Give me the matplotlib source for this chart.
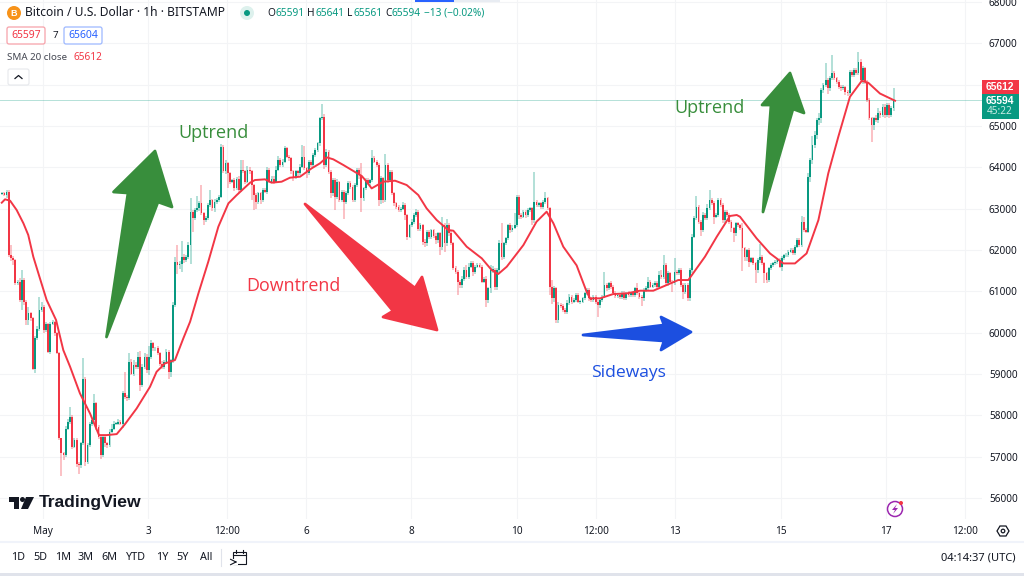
# -*- coding: utf-8 -*-
"""
Bitcoin / U.S. Dollar 1h (TradingView) com marcações de tendência
"""

import matplotlib
matplotlib.use('Agg')
import matplotlib.pyplot as plt
from matplotlib.patches import Polygon, Circle, Rectangle, FancyBboxPatch


# Fechamento de cada candle
closes = [
    63370, 63330, 63410, 61880, 61800, 61760, 61190, 61230, 60790, 61270,
    60750, 60300, 60470, 60350, 59130, 59860, 60100, 60550, 60630, 60060,
    60220, 59540, 60220, 60260, 59980, 59500, 57440, 57080, 57040, 57680,
    57840, 57960, 57240, 57400, 56830, 56790, 57320, 58870, 56875, 57280,
    57800, 57880, 58290, 57720, 57480, 57040, 57480, 57320, 57280, 57600,
    57680, 57800, 57800, 57840, 57800, 58530, 58450, 58410, 59300, 59010,
    59220, 59175, 59420, 58730, 59175, 59420, 59095, 59420, 59740, 59620,
    59620, 59500, 59250, 59170, 59290, 59540, 59050, 59340, 60670, 61710,
    61630, 61670, 61840, 61750, 61840, 62120, 62930, 62770, 62970, 63010,
    63130, 62890, 62730, 62770, 63090, 63210, 63010, 63170, 63210, 63290,
    64500, 63900, 64100, 63860, 63650, 63690, 63490, 63730, 63450, 63940,
    63900, 63650, 63940, 63900, 63570, 63330, 63170, 63370, 63210, 63450,
    63410, 63940, 63650, 63730, 63650, 63940, 64180, 64060, 64140, 64460,
    64260, 64220, 63900, 63770, 63900, 63855, 64020, 64260, 63980, 63855,
    64140, 64060, 64300, 64420, 64580, 65190, 65230, 64060, 64380, 63895,
    63370, 63690, 63290, 63650, 63210, 63410, 63170, 63370, 63610, 63530,
    63210, 63570, 63935, 63815, 63250, 63490, 63690, 63610, 63690, 64220,
    64140, 64060, 63210, 63735, 63210, 64060, 63690, 63895, 63370, 63130,
    63050, 62970, 63000, 63090, 62850, 62320, 62600, 62685, 62850, 62930,
    62520, 62600, 62200, 62160, 62440, 62320, 62480, 62350, 62240, 62400,
    62080, 62600, 62160, 62600, 62400, 62160, 61555, 61475, 61230, 61150,
    61300, 61515, 61350, 61600, 61675, 61475, 61600, 61635, 61600, 61230,
    61310, 60790, 61070, 61515, 61515, 61110, 61515, 62160, 61840, 62160,
    62280, 62600, 62480, 62540, 62600, 63290, 62845, 62805, 62930, 62845,
    62970, 63010, 62725, 63170, 63090, 63130, 63050, 63170, 63250, 63010,
    61110, 60830, 61070, 60305, 60670, 60650, 60550, 60505, 60710, 60870,
    60750, 60790, 60910, 60750, 60750, 60830, 60950, 61030, 60830, 60790,
    60870, 60750, 60670, 60790, 60870, 61150, 61070, 61190, 61110, 60950,
    60890, 60910, 60870, 60950, 60830, 60950, 60910, 60950, 60910,
    61070, 60950, 60870, 60830, 61030, 61070, 61230, 61110, 61160, 61190,
    61110, 61390, 61350, 61635, 61190, 61435, 61230, 61190, 61475, 61435,
    61515, 61150, 60990, 61150, 60830, 61515, 62320, 62765, 63050, 62685,
    62485, 62850, 62765, 63010, 63210, 63130, 62810, 62850, 63210, 63090,
    62725, 62930, 62850, 62685, 62525, 62400, 62645, 62600, 62525,
    62040, 61840, 61995, 61715, 61795, 61675, 61515, 61755, 61835, 61675,
    61435, 61270, 61555, 61635, 61675, 61715, 61755, 61595, 61795, 61875,
    61880, 61960, 62000, 61920, 62080, 62240, 62120, 62685, 62480, 62440,
    63775, 64180, 64540, 64780, 65145, 65185, 65870, 66000, 66115, 65910,
    66155, 66275, 66155, 66075, 65950, 65910, 65950, 65830, 65790, 66315,
    66235, 66355, 66275, 66560, 66115, 66395, 66075, 65630, 65185, 65025,
    65185, 65145, 65305, 65265, 65470, 65265, 65510, 65265, 65430, 65594,
]

# Tamanho do pavio acima do corpo
wick_up = [
    30, 30, 40, 30, 250, 60, 30, 50, 90, 250,
    60, 40, 150, 30, 20, 60, 50, 310, 120, 40,
    40, 20, 40, 40, 30, 30, 30, 20, 40, 60,
    60, 240, 40, 50, 40, 30, 40, 510, 60, 40,
    40, 40, 220, 40, 40, 30, 50, 40, 40, 70,
    100, 60, 40, 60, 40, 60, 520, 40, 200, 60,
    110, 60, 100, 130, 60, 90, 60, 260, 80, 40,
    40, 50, 30, 60, 40, 60, 50, 30, 70, 110,
    400, 60, 370, 60, 40, 70, 320, 40, 40, 300,
    60, 440, 40, 50, 40, 240, 30, 60, 60, 30,
    60, 30, 80, 40, 30, 40, 50, 40, 60, 250,
    240, 40, 100, 60, 40, 30, 40, 40, 30, 40,
    40, 60, 50, 60, 60, 90, 100, 40, 60, 60,
    40, 40, 30, 40, 40, 30, 50, 280, 250, 40,
    40, 50, 50, 60, 30, 40, 300, 60, 60, 50,
    40, 50, 50, 60, 30, 30, 40, 50, 60, 60,
    40, 50, 40, 40, 300, 40, 50, 50, 40, 200,
    60, 40, 40, 60, 40, 270, 40, 40, 40, 40,
    40, 40, 30, 60, 50, 30, 40, 60, 50, 60,
    40, 50, 40, 60, 50, 50, 40, 40, 60, 40,
    30, 200, 60, 150, 50, 60, 40, 50, 40, 40,
    60, 80, 120, 90, 70, 60, 40, 50, 40, 40,
    40, 60, 40, 120, 90, 60, 60, 90, 500, 40,
    40, 40, 60, 60, 300, 40, 40, 40, 40, 40,
    40, 40, 40, 720, 40, 40, 40, 40, 160, 40,
    40, 160, 60, 40, 60, 50, 40, 40, 80, 60,
    40, 60, 40, 40, 50, 40, 40, 60, 40, 30,
    40, 40, 50, 40, 40, 310, 50, 40, 50, 40,
    60, 40, 40, 60, 60, 40, 60, 40, 40,
    40, 120, 40, 50, 50, 50, 120, 40, 50, 50,
    50, 100, 130, 250, 40, 50, 40, 40, 340, 40,
    40, 40, 40, 40, 40, 50, 60, 50, 250, 40,
    40, 60, 40, 100, 240, 40, 50, 40, 50, 50,
    40, 50, 40, 40, 40, 40, 40, 40, 40,
    120, 40, 40, 60, 40, 40, 40, 60, 320, 40,
    40, 40, 40, 40, 40, 40, 40, 40, 50, 40,
    40, 50, 40, 40, 40, 60, 40, 130, 120, 60,
    90, 50, 210, 100, 60, 140, 40, 40, 400, 50,
    60, 440, 50, 40, 40, 40, 40, 30, 30, 40,
    40, 50, 40, 240, 60, 50, 40, 40, 40, 40,
    40, 70, 120, 50, 70, 60, 50, 40, 60, 320,
]

# Tamanho do pavio abaixo do corpo
wick_dn = [
    30, 30, 60, 40, 60, 120, 30, 30, 60, 240,
    90, 120, 110, 60, 40, 100, 40, 60, 60, 60,
    40, 40, 50, 40, 50, 20, 40, 560, 120, 60,
    40, 60, 50, 40, 90, 200, 60, 40, 100, 60,
    40, 60, 40, 70, 50, 100, 60, 80, 60, 40,
    40, 40, 30, 40, 30, 100, 50, 60, 30, 40,
    60, 60, 50, 140, 50, 60, 60, 130, 60, 60,
    60, 50, 50, 40, 60, 50, 170, 120, 80, 60,
    200, 100, 210, 60, 40, 60, 450, 330, 40, 50,
    60, 50, 120, 60, 40, 50, 60, 100, 60, 40,
    30, 40, 60, 360, 50, 40, 60, 40, 60, 40,
    40, 60, 40, 50, 350, 350, 180, 60, 90, 40,
    40, 50, 40, 40, 50, 40, 40, 50, 40, 40,
    30, 70, 50, 100, 50, 60, 30, 40, 40, 120,
    50, 60, 40, 40, 50, 60, 40, 100, 50, 50,
    100, 60, 330, 50, 60, 40, 410, 60, 40, 60,
    50, 50, 50, 100, 320, 60, 40, 40, 50, 50,
    40, 60, 150, 100, 80, 50, 60, 40, 40, 70,
    50, 50, 40, 40, 120, 70, 40, 40, 50, 40,
    50, 50, 70, 90, 60, 50, 60, 50, 90, 60,
    200, 80, 200, 60, 60, 40, 40, 60, 320, 60,
    60, 60, 40, 60, 40, 100, 50, 40, 40, 40,
    40, 160, 70, 100, 60, 90, 80, 60, 80, 60,
    50, 50, 60, 40, 40, 40, 100, 50, 40, 60,
    50, 60, 120, 60, 50, 50, 60, 50, 60, 50,
    200, 130, 100, 80, 60, 60, 50, 60, 60, 40,
    50, 40, 50, 40, 50, 30, 40, 40, 70, 40,
    50, 60, 280, 70, 50, 40, 60, 40, 50, 50,
    50, 50, 60, 50, 40, 50, 40, 50, 50,
    50, 50, 50, 190, 60, 40, 50, 40, 40, 50,
    50, 60, 40, 40, 60, 50, 60, 200, 40, 40,
    40, 50, 180, 60, 60, 60, 60, 40, 40, 60,
    150, 60, 40, 50, 40, 40, 190, 40, 60, 40,
    60, 60, 50, 60, 100, 200, 50, 50, 50,
    560, 100, 100, 120, 40, 40, 310, 60, 60, 40,
    240, 60, 40, 50, 40, 40, 50, 40, 100, 40,
    40, 40, 40, 40, 40, 40, 50, 40, 40, 40,
    40, 130, 90, 60, 100, 120, 100, 60, 50, 130,
    60, 50, 40, 60, 60, 60, 50, 70, 60, 40,
    40, 50, 40, 40, 60, 100, 60, 60, 50, 400,
    130, 40, 60, 80, 40, 60, 50, 60, 40, 60,
]

# SMA 20 (lida em pontos ao longo da linha)
sma_hours = [0.8, 2.3, 4.6, 7.6, 10.7, 12.9, 15.2, 18, 21.3, 25.6, 28.9, 32, 36.5, 41.1, 45.2,
             48.7, 53.3, 57.1, 62.4, 68.5, 71.5, 75.3, 79.9, 83.7, 86.8, 90.6, 95.1, 99.7, 104.3,
             108.1, 114.2, 116.4, 121, 124, 128.6, 132.4, 137, 142.3, 146.1, 149.2, 152.2, 156.8,
             165.2, 167.4, 169.7, 175, 180.4, 185.7, 191, 194.8, 199.4, 204.7, 207, 213.1, 220,
             224.5, 227.5, 231.4, 239, 245, 249.6, 252.7, 257.2, 263.3, 267.9, 269.4, 274, 280,
             286.2, 292.2, 298.3, 304.4, 309.7, 314.3, 321.9, 327.3, 333.3, 336.4, 337.9, 345.5,
             351.6, 357.7, 363, 368.3, 373.7, 378.2, 382.8, 388.1, 393.5, 396.5, 401.8, 408.7]
sma_values = [63145, 63226, 63194, 62968, 62645, 62363, 61838, 61354, 60789, 60305, 59578, 59175,
              58530, 58045, 57520, 57520, 57545, 57787, 58166, 58690, 59053, 59255, 59336, 59860,
              60264, 60950, 61716, 62564, 63129, 63330, 63629, 63693, 63710, 63629, 63653, 63750,
              63774, 63976, 64097, 64242, 64194, 64056, 63790, 63653, 63491, 63653, 63677, 63572,
              63330, 63007, 62725, 62483, 62467, 62080, 61797, 61515, 61418, 61596, 62120, 62685,
              62927, 62645, 62080, 61627, 60985, 60830, 60830, 60934, 60950, 61015, 61015, 61152,
              61273, 61273, 61838, 62322, 62823, 62847, 62805, 62280, 61917, 61675, 61675, 61917,
              62724, 63854, 64742, 65707, 66094, 66046, 65787, 65612]

price_ticks = [56000, 57000, 58000, 59000, 60000, 61000, 62000, 63000, 64000, 65000, 66000, 67000, 68000]
# 66000 fica escondido atrás das etiquetas de preço
price_labels = ['56000', '57000', '58000', '59000', '60000', '61000', '62000', '63000', '64000', '65000', '', '67000', '68000']
time_ticks = [19.6, 67.6, 103.7, 139.7, 187.7, 236, 272, 308, 356.6, 404.6, 440.6]
time_labels = ['May', '3', '12:00', '6', '8', '10', '12:00', '13', '15', '17', '12:00']
ranges = ['1D', '5D', '1M', '3M', '6M', 'YTD', '1Y', '5Y', 'All']
ranges_x = [18, 40, 63, 86, 109, 136, 162, 183, 206]

UP = '#089981'
DOWN = '#F23645'
TXT = '#131722'
FONT = 'Noto Sans'

plt.rcParams['font.family'] = [FONT, 'DejaVu Sans']

fig = plt.figure(figsize=(10.24, 5.76), dpi=100)
W, H = 1024, 576
bottom_px = 519

# Painel de preços
ax = fig.add_axes([0, (H - bottom_px) / H, 982 / W, bottom_px / H])
ax.set_xlim(0, 448.4)
ax.set_ylim(55490, 68050)
for s in ax.spines.values():
    s.set_visible(False)

ax.set_yticks(price_ticks)
ax.set_yticklabels(price_labels)
ax.yaxis.tick_right()
ax.set_xticks(time_ticks)
ax.set_xticklabels(time_labels)
ax.tick_params(length=0, labelsize=7.2, colors=TXT)
ax.tick_params(axis='x', pad=5)
ax.tick_params(axis='y', pad=5)
ax.grid(True, color='#F3F4F6', linewidth=0.8)
ax.set_axisbelow(True)

# Candles
opens = [63350] + closes[:-1]
for i, (o, c, u, d) in enumerate(zip(opens, closes, wick_up, wick_dn)):
    h = i + 1
    col = UP if c >= o else DOWN
    ax.vlines(h, min(o, c) - d, max(o, c) + u, color=col, linewidth=1.2, alpha=0.36, zorder=2)
    ax.bar(h, abs(c - o) if abs(c - o) > 15 else 15, bottom=min(o, c), width=0.8, color=col,
           linewidth=0, zorder=3)

# Linha do último preço e SMA
ax.axhline(closes[-1] + 40, color=UP, linewidth=0.7, alpha=0.3, zorder=1)
ax.plot(sma_hours, sma_values, color=DOWN, linewidth=1.4, zorder=4)

# Camada em pixels para anotações e interface
ov = fig.add_axes([0, 0, 1, 1], facecolor='none')
ov.set_xlim(0, W)
ov.set_ylim(H, 0)
ov.axis('off')


def arrow(pts, col):
    ov.add_patch(Polygon(pts, closed=True, facecolor=col, edgecolor=col, linewidth=2, joinstyle='round', zorder=5))


GREEN = '#388E3C'
BLUE = '#1C4FE0'
RED_ARROW = '#F23645'
arrow([(106.5, 337), (128, 193), (113.5, 192), (155, 151), (172, 207), (158, 202)], GREEN)
arrow([(763, 212), (771, 105), (762, 105), (790, 73), (804, 113), (793, 109)], GREEN)
arrow([(305, 204), (415, 288), (422, 277), (437, 330), (383, 317), (393, 311)], RED_ARROW)
arrow([(583, 335), (664, 325), (661, 317), (691, 332), (661, 350), (664, 341)], BLUE)

ann_font = 'Open Sans'
ov.text(178, 133, 'Uptrend', color=GREEN, fontsize=13.1, family=ann_font, va='center')
ov.text(674, 108, 'Uptrend', color=GREEN, fontsize=13.1, family=ann_font, va='center')
ov.text(246, 286, 'Downtrend', color=RED_ARROW, fontsize=12.9, family=ann_font, va='center')
ov.text(591, 373, 'Sideways', color=BLUE, fontsize=12.6, family=ann_font, va='center')

# Cabeçalho
ov.add_patch(Rectangle((415, 0), 39, 1.5, color='#2962FF', linewidth=0))
ov.add_patch(Rectangle((454, 0), 46, 1.5, color='#E8ECF2', linewidth=0))
ov.add_patch(Circle((14, 13), 7, color='#F7931A', linewidth=0))
ov.text(14, 13, 'B', color='white', fontsize=6.5, family='Liberation Sans', fontweight='bold', ha='center', va='center')
ov.text(25, 13, 'Bitcoin / U.S. Dollar · 1h · BITSTAMP', color=TXT, fontsize=8.7, va='center')
ov.add_patch(Circle((247, 13), 7, color='#DDF1ED', linewidth=0))
ov.add_patch(Circle((247, 13), 3, color=UP, linewidth=0))
for x, s, col in [(267, 'O', TXT), (275, '65591', UP), (307, 'H', TXT), (315, '65641', UP),
                  (347, 'L', TXT), (353, '65561', UP), (385, 'C', TXT), (392, '65594', UP),
                  (424, '−13 (−0.02%)', UP)]:
    ov.text(x, 13, s, color=col, fontsize=7.3, va='center')

for x0, x1, col, s in [(7, 45, '#F7A1A9', '65597'), (64, 102, '#9DB8FF', '65604')]:
    ov.add_patch(FancyBboxPatch((x0, 27), x1 - x0, 17, boxstyle='round,pad=0,rounding_size=2',
                                facecolor='white', edgecolor=col, linewidth=0.9))
    ov.text((x0 + x1) / 2, 35.5, s, color=DOWN if x0 == 7 else '#2962FF', fontsize=7.5, ha='center', va='center')
ov.text(55, 35.5, '7', color=TXT, fontsize=7, ha='center', va='center')
ov.text(7, 58, 'SMA 20 close', color='#434651', fontsize=7, va='center')
ov.text(73, 58, '65612', color=DOWN, fontsize=7.2, va='center')
ov.add_patch(FancyBboxPatch((8, 69), 21, 16, boxstyle='round,pad=0,rounding_size=2',
                            facecolor='white', edgecolor='#E6E8EC', linewidth=0.8))
ov.plot([15, 18.5, 22], [78.5, 75.5, 78.5], color=TXT, linewidth=0.9)

# Etiquetas de preço
ov.add_patch(Rectangle((982, 80), 37, 14, color=DOWN, linewidth=0, zorder=6))
ov.add_patch(Rectangle((982, 94), 37, 25, color=UP, linewidth=0, zorder=6))
ov.text(1000, 87, '65612', color='white', fontsize=7.4, family='Liberation Sans', fontweight='bold', ha='center', va='center', zorder=7)
ov.text(1000, 100.5, '65594', color='white', fontsize=7.4, family='Liberation Sans', fontweight='bold', ha='center', va='center', zorder=7)
ov.text(1000, 112, '45:22', color='#C9ECE5', fontsize=7.2, ha='center', va='center', zorder=7)

# Logo TradingView
ov.add_patch(Polygon([(9, 497), (19, 497), (19, 509), (14, 509), (14, 502), (9, 502)], color='#131722', linewidth=0))
ov.add_patch(Circle((22.5, 499.5), 2.5, color='#131722', linewidth=0))
ov.add_patch(Polygon([(26, 497), (34, 497), (28, 509), (21, 509)], color='#131722', linewidth=0))
ov.text(39, 503, 'TradingView', color='#131722', fontsize=12.6, family='Liberation Sans', fontweight='bold', va='center')

# Ícone roxo
ov.add_patch(Circle((895, 509), 7.5, facecolor='white', edgecolor='#9C27B0', linewidth=1.1))
ov.add_patch(Polygon([(897, 504), (892, 510), (895, 510), (893, 514), (898, 508), (895, 508)], color='#9C27B0', linewidth=0))
ov.add_patch(Circle((901, 503), 2, color=DOWN, linewidth=0))

# Engrenagem
ov.add_patch(Polygon([(997, 531), (1000, 526), (1006, 526), (1009, 531), (1006, 536), (1000, 536)],
                     facecolor='white', edgecolor=TXT, linewidth=0.9))
ov.add_patch(Circle((1003, 531), 1.8, facecolor='white', edgecolor=TXT, linewidth=0.9))

# Barra inferior
ov.plot([0, 1024], [542, 542], color='#F0F3FA', linewidth=1.5)
ov.add_patch(Rectangle((0, 573), W, 3, color='#E0E3EB', linewidth=0))
for x, s in zip(ranges_x, ranges):
    ov.text(x, 558, s, color=TXT, fontsize=7.8, ha='center', va='center')
ov.plot([221, 221], [549, 566], color='#E0E3EB', linewidth=0.8)
ov.add_patch(Rectangle((233, 552), 13, 12, facecolor='none', edgecolor=TXT, linewidth=0.8))
ov.plot([233, 246], [555, 555], color=TXT, linewidth=0.8)
ov.plot([236, 236], [550, 553], color=TXT, linewidth=0.8)
ov.plot([243, 243], [550, 553], color=TXT, linewidth=0.8)
ov.add_patch(Rectangle((231, 559), 7, 6, color='white', linewidth=0))
ov.annotate('', xy=(240, 562), xytext=(232, 562), arrowprops=dict(arrowstyle='->', lw=0.8, color=TXT))
ov.text(1016, 558, '04:14:37 (UTC)', color=TXT, fontsize=8, ha='right', va='center')

fig.savefig('out.png', dpi=100)
